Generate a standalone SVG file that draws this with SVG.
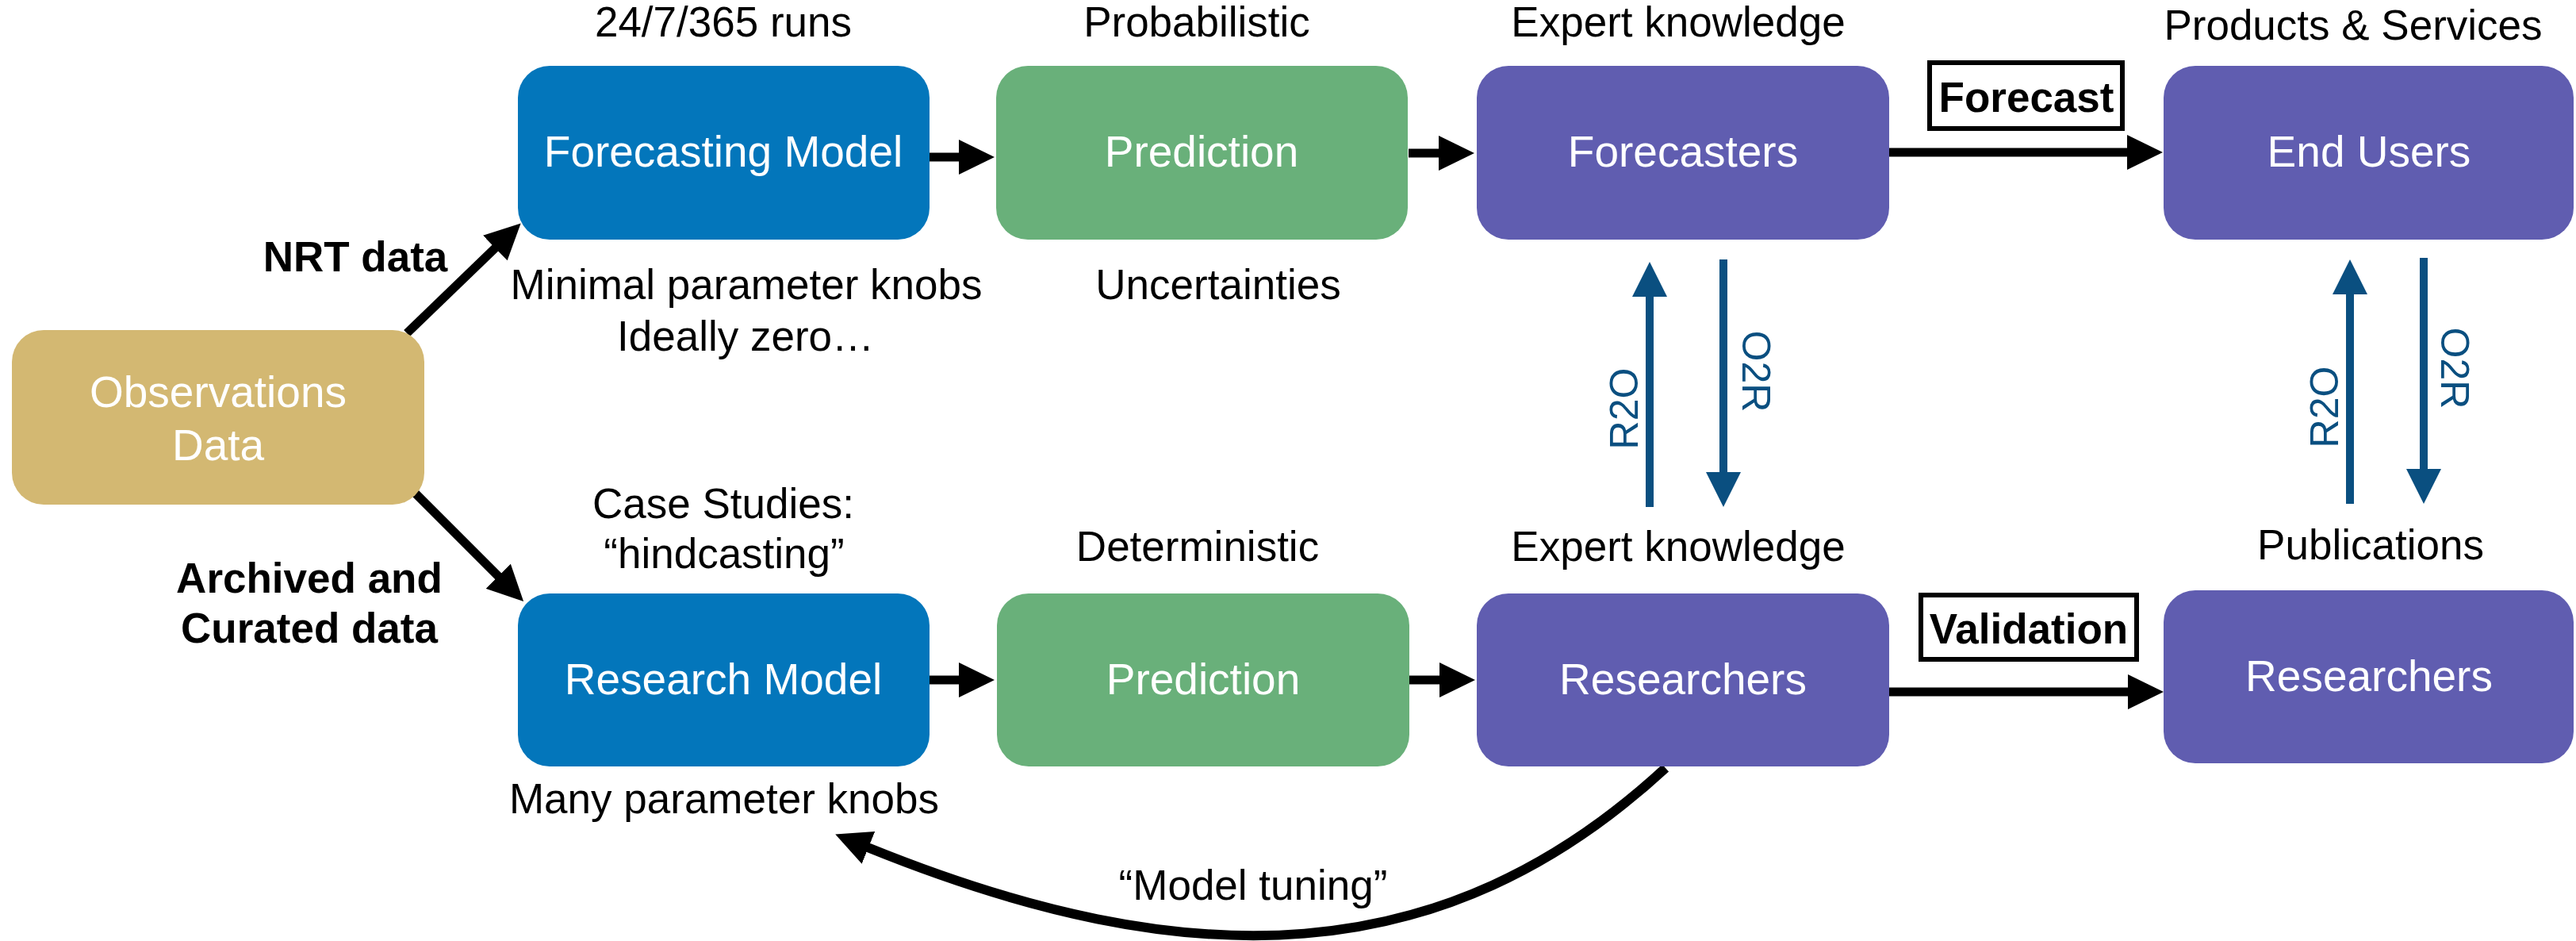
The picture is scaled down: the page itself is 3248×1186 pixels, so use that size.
<svg xmlns="http://www.w3.org/2000/svg" width="3248" height="1186" viewBox="0 0 3248 1186">
  <style>
    text { font-family: "Liberation Sans", Arial, Helvetica, sans-serif; }
    .node-label { font-size: 55px; fill: #ffffff; text-anchor: middle; }
    .note { font-size: 53px; fill: #000000; text-anchor: middle; }
    .bold { font-size: 53px; font-weight: bold; fill: #000000; text-anchor: middle; }
    .flow { font-size: 50px; fill: #0a4f80; text-anchor: middle; }
    .tag { fill: #ffffff; stroke: #000000; stroke-width: 6; }
    .model { fill: #0376bb; }
    .pred { fill: #69b07a; }
    .people { fill: #605db0; }
    .obs { fill: #d3b872; }
    .arrow { stroke: #000000; stroke-width: 11; fill: none; marker-end: url(#head); }
    .loop { stroke: #000000; stroke-width: 12; fill: none; marker-end: url(#head); }
    .exchange { stroke: #0a4f80; stroke-width: 10; fill: none; marker-end: url(#head-blue); }
  </style>
  <defs>
    <marker id="head" markerUnits="userSpaceOnUse" markerWidth="45" markerHeight="44" refX="1" refY="22" orient="auto">
      <path d="M0,0 L45,22 L0,44 Z" fill="#000000"/>
    </marker>
    <marker id="head-blue" markerUnits="userSpaceOnUse" markerWidth="44" markerHeight="44" refX="1" refY="22" orient="auto">
      <path d="M0,0 L44,22 L0,44 Z" fill="#0a4f80"/>
    </marker>
  </defs>

  <rect width="3248" height="1186" fill="#ffffff"/>

  <!-- Connectors -->
  <g id="connectors">
    <line id="obs-to-forecasting" class="arrow" x1="513" y1="420" x2="625" y2="312"/>
    <line id="obs-to-research" class="arrow" x1="522" y1="620" x2="629" y2="727"/>
    <line id="forecasting-to-prediction" class="arrow" x1="1172" y1="198" x2="1210" y2="198"/>
    <line id="prediction-to-forecasters" class="arrow" x1="1776" y1="193" x2="1815" y2="193"/>
    <line id="forecasters-to-endusers" class="arrow" x1="2382" y1="192" x2="2683" y2="192"/>
    <line id="research-to-prediction" class="arrow" x1="1172" y1="857" x2="1210" y2="857"/>
    <line id="prediction-to-researchers" class="arrow" x1="1777" y1="857" x2="1816" y2="857"/>
    <line id="researchers-to-researchers" class="arrow" x1="2382" y1="872" x2="2684" y2="872"/>
    <path id="model-tuning" class="loop" d="M2100,968 C1820,1226 1501,1233 1094,1068"/>
    <line id="r2o-left" class="exchange" x1="2080" y1="639" x2="2080" y2="373"/>
    <line id="o2r-left" class="exchange" x1="2173" y1="327" x2="2173" y2="596"/>
    <line id="r2o-right" class="exchange" x1="2963" y1="635" x2="2963" y2="370"/>
    <line id="o2r-right" class="exchange" x1="3056" y1="325" x2="3056" y2="592"/>

    <g id="forecast-tag">
      <rect class="tag" x="2433" y="79" width="243" height="83"/>
      <text class="bold" x="2555" y="141">Forecast</text>
    </g>
    <g id="validation-tag">
      <rect class="tag" x="2422" y="750" width="272" height="81"/>
      <text class="bold" x="2558" y="811">Validation</text>
    </g>

    <text class="bold" x="448" y="342">NRT data</text>
    <text class="bold" x="390" y="747">Archived and</text>
    <text class="bold" x="390" y="810">Curated data</text>
    <text class="note" x="1580" y="1134">“Model tuning”</text>

    <text class="flow" transform="translate(2065,515) rotate(-90)">R2O</text>
    <text class="flow" transform="translate(2197,468) rotate(90)">O2R</text>
    <text class="flow" transform="translate(2948,513) rotate(-90)">R2O</text>
    <text class="flow" transform="translate(3078,464) rotate(90)">O2R</text>
  </g>

  <!-- Nodes -->
  <g id="observations">
    <rect class="obs" x="15" y="416" width="520" height="220" rx="40" ry="40"/>
    <text class="node-label" x="275" y="513">Observations</text>
    <text class="node-label" x="275" y="580">Data</text>
  </g>

  <g id="forecasting-model">
    <rect class="model" x="653" y="83" width="519" height="219" rx="40" ry="40"/>
    <text class="node-label" x="912" y="210">Forecasting Model</text>
    <text class="note" x="912" y="46">24/7/365 runs</text>
    <text class="note" x="941" y="377">Minimal parameter knobs</text>
    <text class="note" x="940" y="442">Ideally zero…</text>
  </g>

  <g id="prediction-probabilistic">
    <rect class="pred" x="1256" y="83" width="519" height="219" rx="40" ry="40"/>
    <text class="node-label" x="1515" y="210">Prediction</text>
    <text class="note" x="1509" y="46">Probabilistic</text>
    <text class="note" x="1536" y="377">Uncertainties</text>
  </g>

  <g id="forecasters">
    <rect class="people" x="1862" y="83" width="520" height="219" rx="40" ry="40"/>
    <text class="node-label" x="2122" y="210">Forecasters</text>
    <text class="note" x="2116" y="46">Expert knowledge</text>
  </g>

  <g id="end-users">
    <rect class="people" x="2728" y="83" width="517" height="219" rx="40" ry="40"/>
    <text class="node-label" x="2987" y="210">End Users</text>
    <text class="note" x="2967" y="50">Products &amp; Services</text>
  </g>

  <g id="research-model">
    <rect class="model" x="653" y="748" width="519" height="218" rx="40" ry="40"/>
    <text class="node-label" x="912" y="875">Research Model</text>
    <text class="note" x="912" y="653">Case Studies:</text>
    <text class="note" x="913" y="716">“hindcasting”</text>
    <text class="note" x="913" y="1025">Many parameter knobs</text>
  </g>

  <g id="prediction-deterministic">
    <rect class="pred" x="1257" y="748" width="520" height="218" rx="40" ry="40"/>
    <text class="node-label" x="1517" y="875">Prediction</text>
    <text class="note" x="1510" y="707">Deterministic</text>
  </g>

  <g id="researchers">
    <rect class="people" x="1862" y="748" width="520" height="218" rx="40" ry="40"/>
    <text class="node-label" x="2122" y="875">Researchers</text>
    <text class="note" x="2116" y="707">Expert knowledge</text>
  </g>

  <g id="researchers-publications">
    <rect class="people" x="2728" y="744" width="517" height="218" rx="40" ry="40"/>
    <text class="node-label" x="2987" y="871">Researchers</text>
    <text class="note" x="2989" y="705">Publications</text>
  </g>
</svg>
